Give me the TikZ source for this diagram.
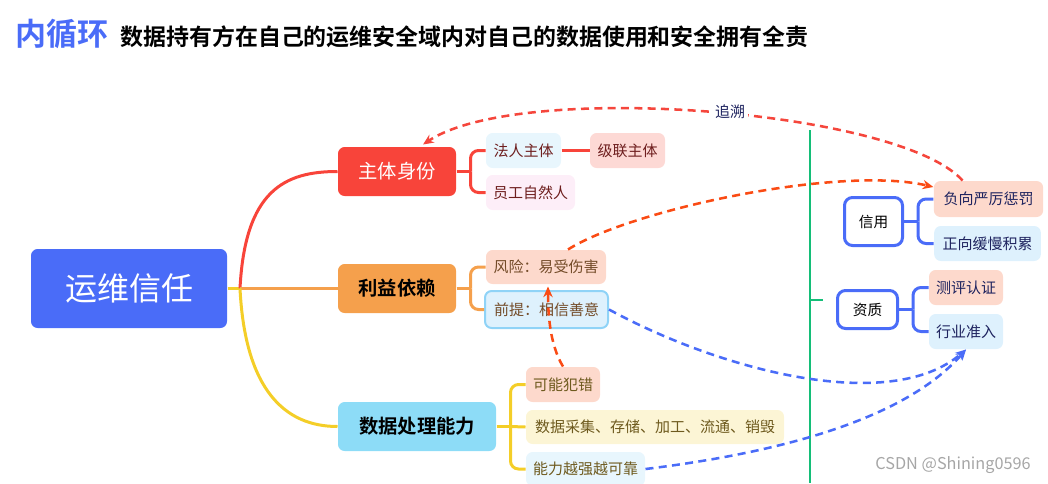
\documentclass[tikz,border=0pt]{standalone}
\usepackage{fontspec}
\setmainfont{Noto Sans CJK SC}[BoldFont={Noto Sans CJK SC Bold}]
\usetikzlibrary{arrows.meta,calc}

\definecolor{rootblue}{RGB}{74,108,248}
\definecolor{topred}{RGB}{248,68,58}
\definecolor{toporange}{RGB}{245,160,76}
\definecolor{topyellow}{RGB}{244,206,40}
\definecolor{topcyan}{RGB}{141,220,247}
\definecolor{fillsky}{RGB}{232,246,253}
\definecolor{fillpink}{RGB}{253,217,213}
\definecolor{fillrose}{RGB}{253,238,248}
\definecolor{fillpeach}{RGB}{253,217,204}
\definecolor{fillice}{RGB}{222,241,253}
\definecolor{fillcream}{RGB}{252,245,213}
\definecolor{edgeice}{RGB}{143,211,247}
\definecolor{txtred}{RGB}{110,30,30}
\definecolor{txtbrown}{RGB}{115,75,40}
\definecolor{txtolive}{RGB}{110,90,30}
\definecolor{txtnavy}{RGB}{30,35,95}
\definecolor{trred}{RGB}{245,70,60}
\definecolor{trorange}{RGB}{250,75,20}
\definecolor{divgreen}{RGB}{20,190,120}

\tikzset{every picture/.style={line width=0.75pt}}
\tikzset{
  rootbox/.style={rounded corners=5pt, fill=rootblue, text=white, minimum width=147pt, minimum height=59.25pt, inner sep=0pt, font=\fontsize{24}{28}\selectfont},
  topicbox/.style={rounded corners=5pt, minimum height=36.75pt, inner sep=0pt, font=\fontsize{14.5}{17}\selectfont},
  leafbox/.style={rounded corners=5pt, minimum height=26.25pt, inner sep=0pt, font=\fontsize{11.25}{13}\selectfont},
  sidebox/.style={rounded corners=6pt, draw=rootblue, line width=2.25pt, fill=white, inner sep=0pt, font=\fontsize{11}{13}\selectfont},
  branch/.style={line width=2.25pt},
  trace/.style={dash pattern=on 6pt off 4pt, line width=1.9pt, -{Stealth[length=8pt,width=7pt]}}
}

\begin{document}
\begin{tikzpicture}[x=0.75pt,y=0.75pt,yscale=-1,xscale=1]
\path[use as bounding box] (0,0) rectangle (1048,483);

% title
\node (nxh) [anchor=base west, inner sep=0pt, text=rootblue, font=\bfseries\fontsize{23.25}{28}\selectfont] at (15,45) {内循环};
\node (ttl) [anchor=base west, inner sep=0pt, font=\bfseries\fontsize{17.2}{21}\selectfont] at (120,45) {数据持有方在自己的运维安全域内对自己的数据使用和安全拥有全责};

% root and topics
\node (yw) [rootbox] at (129,288.5) {运维信任};
\node (zt) [topicbox, fill=topred, text=white, minimum width=88.5pt] at (397,171.5) {主体身份};
\node (ly) [topicbox, fill=toporange, minimum width=88.5pt, font=\bfseries\fontsize{14.5}{17}\selectfont] at (397,288.5) {利益依赖};
\node (sj) [topicbox, fill=topcyan, minimum width=118.5pt, font=\bfseries\fontsize{14.5}{17}\selectfont] at (417,426.5) {数据处理能力};

% leaves
\node (fr) [leafbox, fill=fillsky, text=txtred, minimum width=56.25pt] at (523.5,150.5) {法人主体};
\node (jl) [leafbox, fill=fillpink, text=txtred, minimum width=56.25pt] at (627.5,150.5) {级联主体};
\node (yg) [leafbox, fill=fillrose, text=txtred, minimum width=66.75pt] at (530.5,192.5) {员工自然人};
\node (fx) [leafbox, fill=fillpeach, text=txtbrown, minimum width=90pt, minimum height=25.5pt] at (546,267) {风险：易受伤害};
\node (qt) [leafbox, fill=fillice, draw=edgeice, line width=1.5pt, text=txtbrown, minimum width=92.25pt, minimum height=27.75pt] at (546.5,309.5) {前提：相信善意};
\node (kn) [leafbox, fill=fillpeach, text=txtolive, minimum width=55.5pt] at (563,384.5) {可能犯错};
\node (cj) [leafbox, fill=fillcream, text=txtolive, minimum width=193.5pt, minimum height=25.5pt] at (655,427) {数据采集、存储、加工、流通、销毁};
\node (nl) [leafbox, fill=fillsky, text=txtolive, minimum width=89.25pt, minimum height=25.5pt] at (585.5,469) {能力越强越可靠};

% right side
\node (xy) [sidebox, minimum width=43.5pt, minimum height=36pt] at (873.5,221.5) {信用};
\node (fz) [leafbox, fill=fillpeach, text=txtnavy, minimum width=82pt, minimum height=27pt] at (988.5,199) {负向严厉惩罚};
\node (zx) [leafbox, fill=fillice, text=txtnavy, minimum width=80pt] at (987.5,243.5) {正向缓慢积累};
\node (zz) [sidebox, minimum width=45pt, minimum height=28.5pt] at (867.5,309.5) {资质};
\node (cp) [leafbox, fill=fillpeach, text=txtnavy, minimum width=55.5pt] at (966,287.5) {测评认证};
\node (hy) [leafbox, fill=fillice, text=txtnavy, minimum width=55.5pt] at (966,331.5) {行业准入};

% root branches
\coordinate (hub) at (240,288.5);
\draw [branch, topyellow] (yw.east) -- (hub);
\draw [branch, topred] (hub) .. controls (245,190) and (285,171.5) .. (zt.west);
\draw [branch, toporange] (hub) -- (ly.west);
\draw [branch, topyellow] (hub) .. controls (245,390) and (285,426.5) .. (sj.west);

% topic brackets
\draw [branch, topred] (zt.east) -- ++(14,0) coordinate (zt-j);
\draw [branch, topred, rounded corners=6pt] (zt-j) |- (fr.west);
\draw [branch, topred, rounded corners=6pt] (zt-j) |- (yg.west);
\draw [branch, topred] (fr.east) -- (jl.west);
\draw [branch, toporange] (ly.east) -- ++(14,0) coordinate (ly-j);
\draw [branch, toporange, rounded corners=6pt] (ly-j) |- (fx.west);
\draw [branch, toporange, rounded corners=6pt] (ly-j) |- (qt.west);
\draw [branch, topyellow] (sj.east) -- ++(14,0) coordinate (sj-j);
\draw [branch, topyellow, rounded corners=6pt] (sj-j) |- (kn.west);
\draw [branch, topyellow] (sj-j) -- (cj.west);
\draw [branch, topyellow, rounded corners=6pt] (sj-j) |- (nl.west);
\draw [branch, rootblue] (xy.east) -- ++(14,0) coordinate (xy-j);
\draw [branch, rootblue, rounded corners=6pt] (xy-j) |- (fz.west);
\draw [branch, rootblue, rounded corners=6pt] (xy-j) |- (zx.west);
\draw [branch, rootblue] (zz.east) -- ++(14,0) coordinate (zz-j);
\draw [branch, rootblue, rounded corners=6pt] (zz-j) |- (cp.west);
\draw [branch, rootblue, rounded corners=6pt] (zz-j) |- (hy.west);

% divider
\draw [divgreen, line width=1.8pt] (810,130) -- (810,483);
\draw [divgreen, line width=1.8pt] (810,300) -- (823,300);

% dashed traces
\draw [trace, trred] ($(fz.north)+(-26,0)$) .. controls (900,110) and (520,80) .. ($(zt.north)+(26,-2)$);
\node (zs) [fill=white, inner sep=2pt, text=txtnavy, font=\fontsize{11.25}{13}\selectfont] at (730,112) {追溯};
\draw [trace, trorange] ($(fx.north)+(22,0)$) .. controls (630,210) and (840,165) .. ($(fz.west)+(0,-12)$);
\draw [trace, trorange] (kn.north) .. controls (550,345) and (548,315) .. ($(fx.south)+(2,2)$);
\draw [trace, rootblue] (qt.east) .. controls (720,370) and (890,415) .. (hy.south);
\draw [trace, rootblue] (nl.east) .. controls (760,455) and (900,425) .. (hy.south);

% watermark
\node (wm) [text=black!35, font=\fontsize{12.2}{14}\selectfont, inner sep=0pt] at (953,465) {CSDN @Shining0596};

\end{tikzpicture}
\end{document}
